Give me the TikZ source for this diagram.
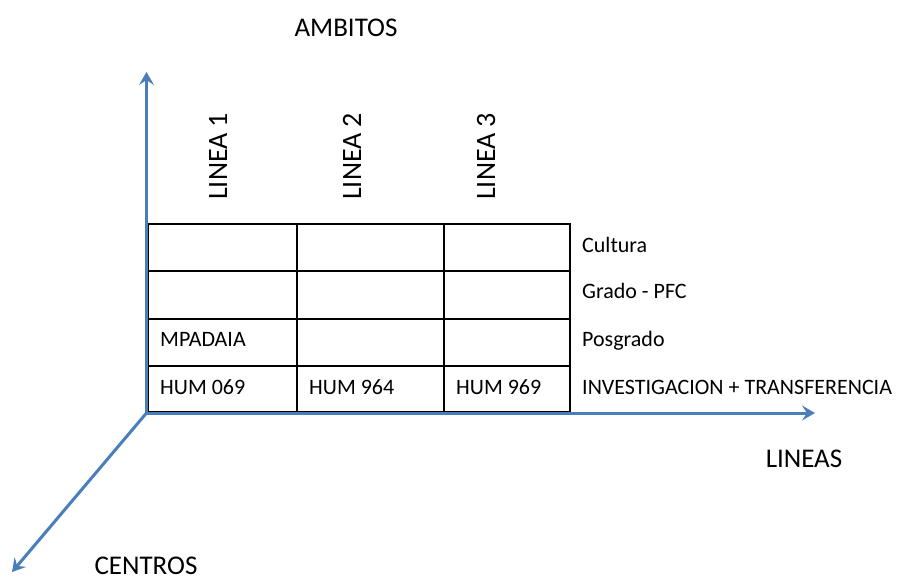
\documentclass[tikz,border=0pt]{standalone}
\usepackage{fontspec}
\setmainfont{Carlito}
\usetikzlibrary{arrows.meta}
\definecolor{axisblue}{HTML}{4A7EBB}
\begin{document}
\begin{tikzpicture}[x=1pt,y=-1pt,
  axis/.style={draw=axisblue, line width=3pt, -{Stealth[length=13pt,width=15pt,inset=5pt]}},
  gridline/.style={draw=black, line width=1.3pt},
  small/.style={inner sep=0, anchor=base west, font=\fontsize{22}{26}\selectfont},
  big/.style={inner sep=0, font=\fontsize{27}{32}\selectfont},
  vert/.style={inner sep=0, anchor=base west, rotate=90, font=\fontsize{28}{32}\selectfont}]
\useasboundingbox[fill=white] (0,0) rectangle (902,582);
% table
\draw[gridline] (148,224) rectangle (570,412);
\draw[gridline] (148,271) -- (570,271);
\draw[gridline] (148,319) -- (570,319);
\draw[gridline] (148,366) -- (570,366);
\draw[gridline] (297,224) -- (297,412);
\draw[gridline] (444,224) -- (444,412);
% axes
\coordinate (O) at (146.5,413);
\coordinate (Ytip) at (146.5,72);
\coordinate (Xtip) at (815,413);
\coordinate (Ztip) at (12,572);
\draw[axis] (O) -- (Ytip);
\draw[axis] (O) -- (Xtip);
\draw[axis] (O) -- (Ztip);
% axis labels
\node[big] (ambitos) at (346,28) {AMBITOS};
\node[big] (lineas) at (804,459) {LINEAS};
\node[big] (centros) at (146,566) {CENTROS};
% column labels
\node[vert] (l1) at (227,200) {LINEA 1};
\node[vert] (l2) at (361,200) {LINEA 2};
\node[vert] (l3) at (495,200) {LINEA 3};
% row labels
\node[small] (r1) at (582,252) {Cultura};
\node[small] (r2) at (582,298) {Grado - PFC};
\node[small] (r3) at (582,346) {Posgrado};
\node[small] (r4) at (582,394) {INVESTIGACION + TRANSFERENCIA};
% cell texts
\node[small] (c1) at (160,346) {MPADAIA};
\node[small] (c2) at (160,394) {HUM 069};
\node[small] (c3) at (309,394) {HUM 964};
\node[small] (c4) at (456,394) {HUM 969};
\end{tikzpicture}
\end{document}
